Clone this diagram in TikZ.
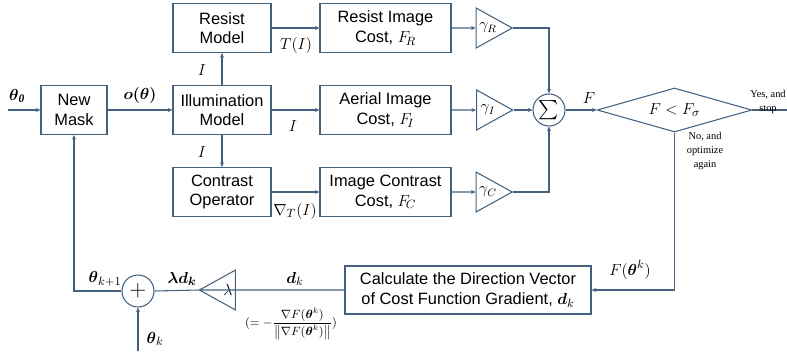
\documentclass[tikz,border=0pt]{standalone}
\usepackage{amsmath,amssymb}
\usepackage{fontspec}
\setsansfont{Liberation Sans}
\setmainfont{Liberation Serif}
\usetikzlibrary{arrows.meta,shapes.geometric}
\definecolor{linec}{RGB}{68,98,128}

\begin{document}
\begin{tikzpicture}[x=0.75pt,y=-0.75pt,>={Stealth[length=3.5pt,width=3pt]},
  ln/.style={draw=linec,line width=0.8pt},
  blk/.style={ln,rectangle,align=center,inner sep=0pt,font=\sffamily\fontsize{12.3}{14.6}\selectfont},
  smallblk/.style={blk,minimum width=73.5pt,minimum height=36.75pt},
  costblk/.style={blk,minimum width=98.25pt,minimum height=36.75pt},
  gain/.style={ln,isosceles triangle,isosceles triangle apex angle=58,inner sep=0pt,minimum height=27pt,font=\fontsize{12}{12}\selectfont},
  junc/.style={ln,circle,minimum size=24pt,inner sep=0pt},
  lbl/.style={font=\fontsize{12.3}{14}\selectfont,inner sep=0pt},
  note/.style={font=\rmfamily\fontsize{7.8}{10.6}\selectfont,align=center,inner sep=0pt}]
\useasboundingbox (0,0) rectangle (787,351);

% blocks of the forward model
\node[smallblk,minimum width=49.5pt] (mask) at (74,110) {New\\Mask};
\node[smallblk] (resist) at (222,28)  {Resist\\Model};
\node[smallblk] (illum)  at (222,110) {Illumination\\Model};
\node[smallblk] (contr)  at (222,192) {Contrast\\Operator};
\node[costblk] (rcost) at (385.5,28)  {Resist Image\\Cost, $F_{\!R}$};
\node[costblk] (acost) at (385.5,110) {Aerial Image\\Cost, $F_{\!I}$};
\node[costblk] (ccost) at (385.5,192) {Image Contrast\\Cost, $F_{\!C}$};

% weights and sum
\node[gain] (gR) at (488,28)  {$\gamma_R$\hspace{6pt}};
\node[gain] (gI) at (488,110) {$\gamma_I$\hspace{6pt}};
\node[gain] (gC) at (488,192) {$\gamma_C$\hspace{6pt}};
\node[junc] (sum) at (549,110) {\Large$\sum$};
\node[ln,diamond,aspect=3.5,minimum width=116pt,minimum height=33pt,inner sep=0pt] (dia) at (674.5,110)
  {\fontsize{13}{13}\selectfont$F<F_\sigma$};

% feedback loop
\node[blk,minimum width=184.5pt,minimum height=36pt] (calc) at (468,290)
  {Calculate the Direction Vector\\of Cost Function Gradient, $\boldsymbol{d}_k$};
\node[gain,shape border rotate=180] (lam) at (224,290) {\hspace{6pt}$\lambda$};
\node[junc] (plus) at (138,291) {\LARGE$+$};

\coordinate (in0) at (8,110);
\coordinate (out) at (787,110);
\coordinate (thk) at (138,351);

\draw[ln,->] (in0) -- (mask.west);
\draw[ln,->] (mask.east) -- (illum.west);
\draw[ln,->] (illum.north) -- (resist.south);
\draw[ln,->] (illum.south) -- (contr.north);
\draw[ln,->] (resist.east) -- (rcost.west);
\draw[ln,->] (illum.east) -- (acost.west);
\draw[ln,->] (contr.east) -- (ccost.west);
\draw[ln,->] (rcost.east) -- (gR.west);
\draw[ln,->] (acost.east) -- (gI.west);
\draw[ln,->] (ccost.east) -- (gC.west);
\draw[ln,->] (gR.apex) -| (sum.north);
\draw[ln,->] (gI.apex) -- (sum.west);
\draw[ln,->] (gC.apex) -| (sum.south);
\draw[ln,->] (sum.east) -- (dia.west);
\draw[ln] (dia.east) -- (out);
\draw[ln,->] (dia.south) |- (calc.east);
\draw[ln,->] (calc.west) -- (lam.west);
\draw[ln] (lam.apex) -- (plus.east);
\draw[ln,->] (plus.west) -| (mask.south);
\draw[ln,->] (thk) -- (plus.south);

% signal names
\node[lbl] (t0)  at (17,96)   {$\boldsymbol{\theta}_{\boldsymbol{\mathit{0}}}$};
\node[lbl] (o)   at (140,95)  {$\boldsymbol{o(\theta)}$};
\node[lbl] (i1)  at (202,70)  {$I$};
\node[lbl] (i2)  at (202,152) {$I$};
\node[lbl] (i3)  at (293,126) {$I$};
\node[lbl] (ti)  at (296,45)  {$T(I)$};
\node[lbl] (gi)  at (295,211) {$\nabla_{T}(I)$};
\node[lbl] (f)   at (589,98)  {$F$};
\node[note] (yes) at (768,102) {Yes, and\\stop};
\node[note] (no)  at (705,151) {No, and\\optimize\\again};
\node[lbl] (fk)  at (630,270) {$F(\boldsymbol{\theta}^{k})$};
\node[lbl] (dk)  at (295,279) {$\boldsymbol{d}_{k}$};
\node[lbl,font=\fontsize{9}{10}\selectfont] (nd) at (291,324)
  {$(=-\dfrac{\nabla F(\boldsymbol{\theta}^{k})}{\left\|\nabla F(\boldsymbol{\theta}^{k})\right\|})$};
\node[lbl] (ld)  at (182,279) {$\boldsymbol{\lambda d_{k}}$};
\node[lbl] (tk1) at (105,279) {$\boldsymbol{\theta}_{k+1}$};
\node[lbl] (tk)  at (155,339) {$\boldsymbol{\theta}_{k}$};
\end{tikzpicture}
\end{document}
